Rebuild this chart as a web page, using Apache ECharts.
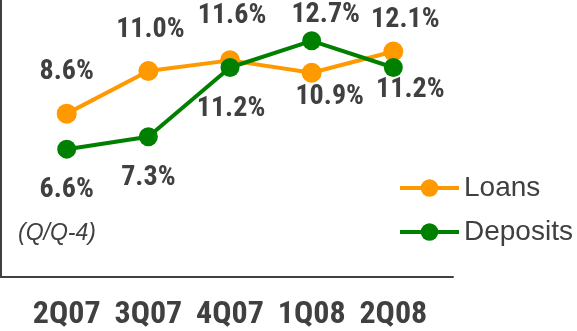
<!DOCTYPE html>
<html>
<head>
<meta charset="utf-8">
<script src="https://cdn.jsdelivr.net/npm/echarts@6/dist/echarts.min.js"></script>
<style>
  html, body { margin: 0; padding: 0; background: #fff; }
  #chart { width: 577px; height: 331px; }
</style>
</head>
<body>
<div id="chart"></div>
<script>
// Year-over-year growth (Q/Q-4), in percent
const quarters = ['2Q07', '3Q07', '4Q07', '1Q08', '2Q08'];
const loans = [8.6, 11.0, 11.6, 10.9, 12.1];
const deposits = [6.6, 7.3, 11.2, 12.7, 11.2];

// Label placement (pixel offset of each value label from its point)
const loanLabelOffsets = [[0, -42], [2, -41], [2, -44], [18, 24], [12, -31]];
const depositLabelOffsets = [[0, 41], [0, 41], [1, 42], [14, -26], [17, 23]];

const TEXT = '#404040';
const NARROW = '"Roboto Condensed", "Open Sans Condensed", sans-serif';
const REGULAR = '"Liberation Sans", Arial, sans-serif';

function points(values, offsets) {
  return values.map((v, i) => ({
    value: [i, v],
    label: { offset: offsets[i] }
  }));
}

const valueLabel = {
  show: true,
  position: 'inside',
  formatter: p => p.value[1].toFixed(1) + '%',
  fontFamily: NARROW,
  fontWeight: 'bold',
  fontSize: 28,
  color: TEXT
};

const chart = echarts.init(document.getElementById('chart'), null, { renderer: 'canvas' });
chart.setOption({
  animation: false,
  backgroundColor: '#fff',
  title: {
    text: '(Q/Q-4)',
    left: 18,
    top: 222,
    padding: 0,
    textStyle: { fontFamily: REGULAR, fontStyle: 'italic', fontWeight: 'normal', fontSize: 23, color: TEXT }
  },
  legend: {
    left: 398,
    top: 174,
    padding: 0,
    orient: 'vertical',
    itemWidth: 59,
    itemHeight: 22,
    itemGap: 16,
    lineStyle: { width: 4 },
    textStyle: { fontFamily: REGULAR, fontSize: 28, lineHeight: 28, color: TEXT },
    data: ['Loans', 'Deposits']
  },
  grid: { left: 1, right: 124, top: 0, bottom: 52.5 },
  xAxis: {
    type: 'value',
    min: -0.805,
    max: 4.731,
    splitLine: { show: false },
    axisTick: { show: false },
    axisLine: { show: true, onZero: false, lineStyle: { color: TEXT, width: 2 } },
    axisLabel: {
      customValues: [0, 1, 2, 3, 4],
      formatter: v => quarters[Math.round(v)],
      margin: 22,
      fontFamily: NARROW,
      fontWeight: 'bold',
      fontSize: 32,
      color: TEXT
    }
  },
  yAxis: {
    type: 'value',
    min: -0.6,
    max: 15.0,
    splitLine: { show: false },
    axisTick: { show: false },
    axisLabel: { show: false },
    axisLine: { show: true, onZero: false, lineStyle: { color: TEXT, width: 2 } }
  },
  series: [
    {
      name: 'Loans',
      type: 'line',
      data: points(loans, loanLabelOffsets),
      symbol: 'circle',
      symbolSize: 20,
      lineStyle: { color: '#FF9900', width: 4 },
      itemStyle: { color: '#FF9900' },
      label: valueLabel,
      z: 2
    },
    {
      name: 'Deposits',
      type: 'line',
      data: points(deposits, depositLabelOffsets),
      symbol: 'circle',
      symbolSize: 19,
      lineStyle: { color: '#008000', width: 4 },
      itemStyle: { color: '#008000' },
      label: valueLabel,
      z: 3
    }
  ]
});
</script>
</body>
</html>
